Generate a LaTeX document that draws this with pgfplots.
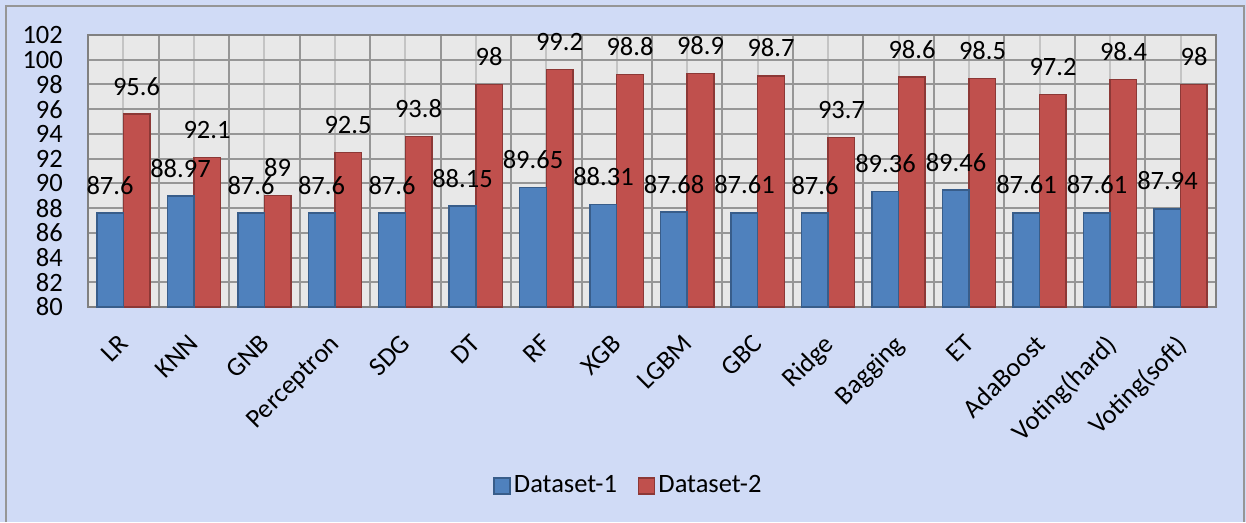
\documentclass[border=0pt]{standalone}
\usepackage{fontspec}
\setmainfont{Carlito}
\usepackage{pgfplots}
\usepackage{pgfplotstable}
\pgfplotsset{compat=1.18}

\definecolor{paper}{RGB}{208,219,246}
\definecolor{plotbg}{RGB}{232,232,232}
\definecolor{gridmajor}{RGB}{150,150,150}
\definecolor{gridlight}{RGB}{196,196,196}
\definecolor{framegray}{RGB}{128,128,128}
\definecolor{dsblue}{RGB}{79,129,189}
\definecolor{dsblueedge}{RGB}{56,93,138}
\definecolor{dsred}{RGB}{192,80,77}
\definecolor{dsrededge}{RGB}{140,56,54}

\newcommand{\chartfont}{\fontsize{26.5}{31}\selectfont}

% accuracy (%) of each classifier on the two datasets
\pgfplotstableread{
idx d1    d2
0   87.6  95.6
1   88.97 92.1
2   87.6  89
3   87.6  92.5
4   87.6  93.8
5   88.15 98
6   89.65 99.2
7   88.31 98.8
8   87.68 98.9
9   87.61 98.7
10  87.6  93.7
11  89.36 98.6
12  89.46 98.5
13  87.61 97.2
14  87.61 98.4
15  87.94 98
}\scores

\begin{document}
\chartfont
\begin{tikzpicture}[x=1pt,y=1pt,font=\chartfont]
\useasboundingbox (0,0) rectangle (1246,-522);
\fill[paper] (0,0) rectangle (1246,-522);
\draw[line width=2pt, color=gridmajor] (6,-522) -- (6,-6) -- (1244,-6) -- (1244,-522);
\begin{axis}[
  at={(88pt,-307pt)}, anchor=south west,
  width=1128pt, height=272pt, scale only axis,
  xmin=-0.5, xmax=15.5, ymin=80, ymax=102,
  ytick={80,82,...,102},
  xtick={0,...,15},
  xticklabels={LR,KNN,GNB,Perceptron,SDG,DT,RF,XGB,LGBM,GBC,Ridge,Bagging,ET,AdaBoost,Voting(hard),Voting(soft)},
  minor xtick={-0.5,0.5,...,15.5},
  xmajorgrids, xminorgrids, ymajorgrids,
  major x grid style={gridlight, line width=2pt},
  minor x grid style={gridmajor, line width=2pt},
  major y grid style={gridmajor, line width=2pt},
  major tick length=0pt, minor tick length=0pt,
  axis background/.style={fill=plotbg},
  axis line style={framegray, line width=2.5pt},
  /pgf/number format/assume math mode=true,
  tick label style={font=\chartfont},
  yticklabel style={anchor=east, inner sep=0pt, xshift=-25pt},
  xticklabel style={xshift=-6pt, rotate=45, anchor=north east, inner sep=0pt},
  xticklabel shift=26pt,
  ybar=0pt, bar width=26.5pt,
  nodes near coords,
  nodes near coords style={font=\chartfont, anchor=base, yshift=19pt, inner sep=0pt, text=black},
  reverse legend,
  legend columns=2,
  legend style={draw=none, fill=none, font=\chartfont, at={(0.4796,-0.658)}, anchor=center,
    nodes={inner sep=3pt, anchor=west},
    /tikz/every even column/.append style={column sep=18pt}},
]
\addplot[fill=dsred, draw=dsrededge, line width=1.5pt, bar shift=13.25pt,
  legend image code/.code={\draw[fill=dsred, draw=dsrededge, line width=1.5pt] (0pt,-8pt) rectangle (16pt,8pt);}]
  table[x=idx, y=d2] {\scores};
\addlegendentry{Dataset-2}
\addplot[fill=dsblue, draw=dsblueedge, line width=1.5pt, bar shift=-13.25pt,
  legend image code/.code={\draw[fill=dsblue, draw=dsblueedge, line width=1.5pt] (0pt,-8pt) rectangle (16pt,8pt);}]
  table[x=idx, y=d1] {\scores};
\addlegendentry{Dataset-1}
\end{axis}
\end{tikzpicture}
\end{document}
